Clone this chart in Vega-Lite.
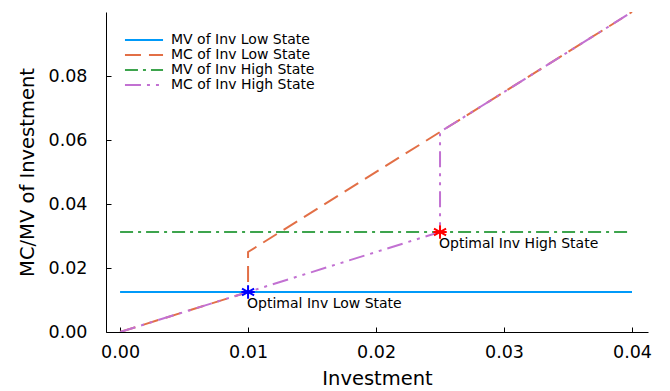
{
  "$schema": "https://vega.github.io/schema/vega-lite/v6.json",
  "autosize": "none",
  "width": 542,
  "height": 320,
  "padding": {"left": 106, "top": 12, "right": 22, "bottom": 59},
  "background": "white",
  "config": {
    "view": {"stroke": null},
    "font": "DejaVu Sans",
    "axis": {
      "labelFont": "DejaVu Sans",
      "titleFont": "DejaVu Sans",
      "labelFontSize": 17.5,
      "titleFontSize": 19.5,
      "titleFontWeight": "normal",
      "labelColor": "black",
      "titleColor": "black",
      "domainColor": "black",
      "tickColor": "black",
      "domainWidth": 1,
      "grid": false
    }
  },
  "datasets": {
    "lines": [
      {"series": "MV of Inv Low State", "i": 0, "x": 0, "y": 0.0125},
      {"series": "MV of Inv Low State", "i": 1, "x": 0.04, "y": 0.0125},
      {"series": "MC of Inv Low State", "i": 0, "x": 0, "y": 0},
      {"series": "MC of Inv Low State", "i": 1, "x": 0.01, "y": 0.0125},
      {"series": "MC of Inv Low State", "i": 2, "x": 0.01, "y": 0.025},
      {"series": "MC of Inv Low State", "i": 3, "x": 0.04, "y": 0.1},
      {"series": "MV of Inv High State", "i": 0, "x": 0, "y": 0.03125},
      {"series": "MV of Inv High State", "i": 1, "x": 0.04, "y": 0.03125},
      {"series": "MC of Inv High State", "i": 0, "x": 0, "y": 0},
      {"series": "MC of Inv High State", "i": 1, "x": 0.025, "y": 0.03125},
      {"series": "MC of Inv High State", "i": 2, "x": 0.025, "y": 0.0625},
      {"series": "MC of Inv High State", "i": 3, "x": 0.04, "y": 0.1}
    ],
    "optima": [
      {"state": "Low", "x": 0.01, "y": 0.0125, "label": "Optimal Inv Low State"},
      {"state": "High", "x": 0.025, "y": 0.03125, "label": "Optimal Inv High State"}
    ]
  },
  "layer": [
    {
      "data": {"name": "lines"},
      "mark": {"type": "line", "strokeWidth": 2, "clip": true},
      "encoding": {
        "x": {
          "field": "x", "type": "quantitative",
          "scale": {"domain": [-0.0011, 0.04125], "nice": false, "zero": false},
          "axis": {"values": [0, 0.01, 0.02, 0.03, 0.04], "format": ".2f", "title": "Investment", "tickSize": -5, "labelPadding": 16, "titlePadding": 9}
        },
        "y": {
          "field": "y", "type": "quantitative",
          "scale": {"domain": [0, 0.1], "nice": false},
          "axis": {"values": [0, 0.02, 0.04, 0.06, 0.08], "format": ".2f", "title": "MC/MV of Investment", "tickSize": -5, "labelPadding": 24, "titlePadding": 11}
        },
        "order": {"field": "i", "type": "quantitative"},
        "color": {
          "field": "series", "type": "nominal",
          "scale": {
            "domain": ["MV of Inv Low State", "MC of Inv Low State", "MV of Inv High State", "MC of Inv High State"],
            "range": ["#009af9", "#e26f46", "#3da44d", "#c271d2"]
          },
          "legend": {
            "title": null, "orient": "none", "legendX": 31, "legendY": 21,
            "symbolType": "M-5,0L5,0", "symbolSize": 58, "symbolStrokeWidth": 2,
            "labelFontSize": 14, "labelFont": "DejaVu Sans", "labelColor": "black",
            "rowPadding": 1, "labelOffset": 20
          }
        },
        "strokeDash": {
          "field": "series", "type": "nominal",
          "scale": {
            "domain": ["MV of Inv Low State", "MC of Inv Low State", "MV of Inv High State", "MC of Inv High State"],
            "range": [[1, 0], [16, 8], [13, 5, 3, 5], [16, 6, 3, 6, 3, 6]]
          },
          "legend": {
            "title": null, "orient": "none", "legendX": 31, "legendY": 21,
            "symbolType": "M-5,0L5,0", "symbolSize": 58, "symbolStrokeWidth": 2,
            "labelFontSize": 14, "labelFont": "DejaVu Sans", "labelColor": "black",
            "rowPadding": 1, "labelOffset": 20
          }
        }
      }
    },
    {
      "data": {"name": "optima"},
      "mark": {
        "type": "point",
        "shape": "M0,-1L0,1M-0.9,-0.5L0.9,0.5M-0.9,0.5L0.9,-0.5M-1,0L1,0",
        "filled": false, "strokeWidth": 2, "size": 180, "opacity": 1
      },
      "encoding": {
        "x": {"field": "x", "type": "quantitative"},
        "y": {"field": "y", "type": "quantitative"},
        "stroke": {
          "field": "state", "type": "nominal",
          "scale": {"domain": ["Low", "High"], "range": ["blue", "red"]},
          "legend": null
        }
      }
    },
    {
      "data": {"name": "optima"},
      "mark": {"type": "text", "align": "left", "baseline": "top", "dx": -1, "dy": 5, "fontSize": 14, "font": "DejaVu Sans", "color": "black"},
      "encoding": {
        "x": {"field": "x", "type": "quantitative"},
        "y": {"field": "y", "type": "quantitative"},
        "text": {"field": "label"}
      }
    }
  ]
}
